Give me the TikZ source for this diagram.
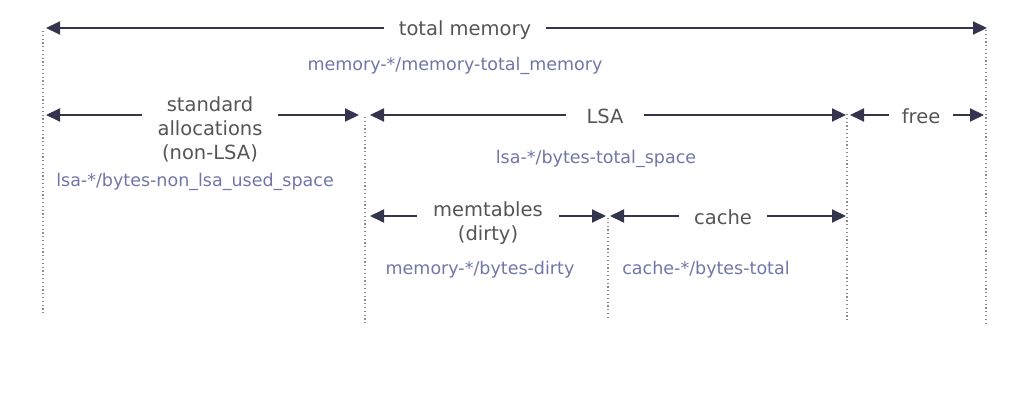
\documentclass[tikz,border=0pt]{standalone}
\usepackage{fontspec}
\setmainfont{DejaVu Sans}
\usetikzlibrary{arrows.meta}
\definecolor{arrowc}{HTML}{34344F}
\definecolor{labelc}{HTML}{555555}
\definecolor{metricc}{HTML}{7076A8}
\definecolor{guidec}{HTML}{8A8A8A}
\tikzset{
  span/.style={draw=arrowc, line width=2pt, {Triangle[length=14pt,width=13pt]}-{Triangle[length=14pt,width=13pt]}},
  guide/.style={draw=guidec, line width=1.3pt, dash pattern=on 1.2pt off 2.6pt},
  lbl/.style={fill=white, text=labelc, font=\fontsize{19.5}{24}\selectfont, align=center, inner xsep=15pt, inner ysep=1pt},
  metric/.style={text=metricc, font=\fontsize{17.5}{21}\selectfont, inner sep=0pt}
}
\begin{document}
\begin{tikzpicture}[x=1pt,y=-1pt]
\useasboundingbox (0,0) rectangle (1024,411);
% guide lines
\coordinate (g1a) at (43,31);  \coordinate (g1b) at (43,313);
\coordinate (g2a) at (365,117); \coordinate (g2b) at (365,323);
\coordinate (g3a) at (608,218); \coordinate (g3b) at (608,319);
\coordinate (g4a) at (847,114); \coordinate (g4b) at (847,320);
\coordinate (g5a) at (986,30);  \coordinate (g5b) at (986,324);
\foreach \i in {1,...,5} \draw[guide] (g\i a) -- (g\i b);
% arrow endpoints
\coordinate (t1) at (46,28);  \coordinate (t2) at (987,28);
\coordinate (s1) at (46,115); \coordinate (s2) at (359,115);
\coordinate (l1) at (370,115); \coordinate (l2) at (846,115);
\coordinate (f1) at (850,115); \coordinate (f2) at (984,115);
\coordinate (m1) at (370,216); \coordinate (m2) at (606,216);
\coordinate (c1) at (610,216); \coordinate (c2) at (846,216);
\draw[span] (t1) -- (t2);
\draw[span] (s1) -- (s2);
\draw[span] (l1) -- (l2);
\draw[span] (f1) -- (f2);
\draw[span] (m1) -- (m2);
\draw[span] (c1) -- (c2);
% labels
\node[lbl] (total) at (465,30) {total memory};
\node[lbl, inner xsep=16pt] (std) at (210,129) {standard\\allocations\\(non-LSA)};
\node[lbl, inner xsep=21pt] (lsa) at (605,116) {LSA};
\node[lbl, inner xsep=13pt] (free) at (921,116) {free};
\node[lbl, inner xsep=16pt] (mem) at (488,223) {memtables\\(dirty)};
\node[lbl] (cache) at (723,217) {cache};
% metrics
\node[metric] (mtotal) at (455,66) {memory-*/memory-total\_memory};
\node[metric] (mlsa) at (596,159) {lsa-*/bytes-total\_space};
\node[metric] (mnon) at (195,182) {lsa-*/bytes-non\_lsa\_used\_space};
\node[metric] (mdirty) at (480,270) {memory-*/bytes-dirty};
\node[metric] (mcache) at (706,270) {cache-*/bytes-total};
\end{tikzpicture}
\end{document}
